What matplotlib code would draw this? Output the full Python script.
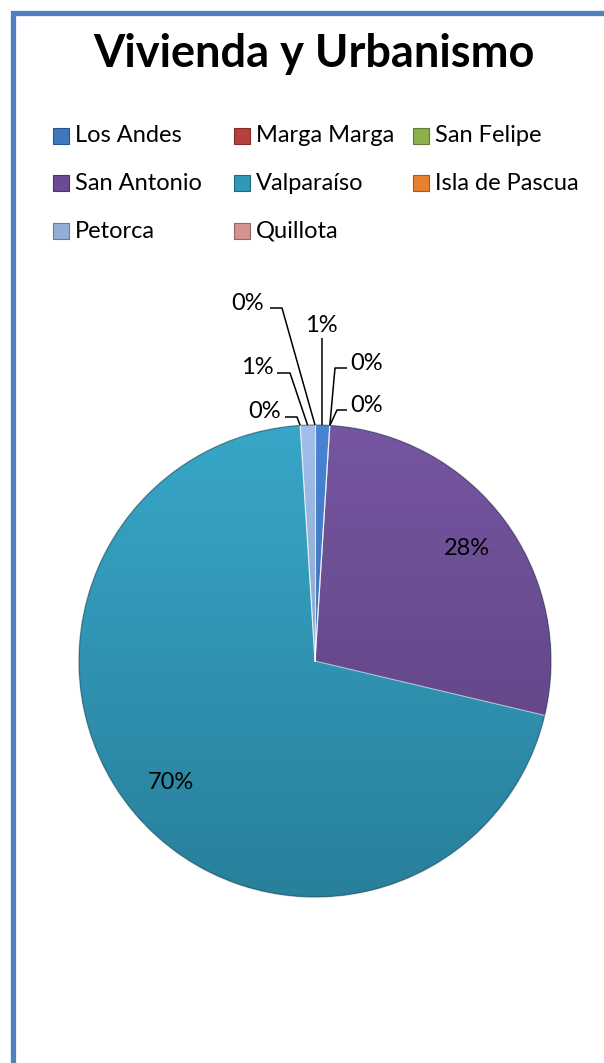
import numpy as np
import matplotlib
matplotlib.use("Agg")
import matplotlib.pyplot as plt
from matplotlib.patches import Rectangle
from matplotlib.colors import LinearSegmentedColormap, to_rgb

# ---- data ----
categories = ["Los Andes", "Marga Marga", "San Felipe", "San Antonio",
              "Valparaíso", "Isla de Pascua", "Petorca", "Quillota"]
values = [1.0, 0.0, 0.0, 27.7, 70.3, 0.0, 1.0, 0.0]
colors = ["#3F78C2", "#B8403C", "#8DB04A", "#6A4C93",
          "#3098B8", "#E8812E", "#93AFD8", "#D49390"]
title = "Vivienda y Urbanismo"

W, H = 604, 1063
fig = plt.figure(figsize=(W / 100, H / 100), dpi=100)
ax = fig.add_axes([0, 0, 1, 1])

FONT = ["Lato", "DejaVu Sans"]

cx, cy_img, R = 315, 661, 236
cy = H - cy_img

wedges, _ = ax.pie(values, colors=colors, startangle=90, counterclock=False,
                   center=(cx, cy), radius=R,
                   wedgeprops=dict(linewidth=0, edgecolor="none"))

# vertical gradient shading on each wedge (lighter at top)
grad = np.linspace(0.0, 1.0, 256).reshape(-1, 1)
for w, c in zip(wedges, colors):
    base = np.array(to_rgb(c))
    top = np.clip(base * 1.06 + 0.02, 0, 1)
    bot = base * 0.84
    cmap = LinearSegmentedColormap.from_list("g", [bot, top])
    im = ax.imshow(grad, extent=(cx - R, cx + R, cy - R, cy + R),
                   cmap=cmap, aspect="auto", origin="lower", zorder=2)
    im.set_clip_path(w)

# rim outline
circ = plt.Circle((cx, cy), R, fill=False, edgecolor="#1f3a48", linewidth=1.0,
                  alpha=0.45, zorder=3)
ax.add_patch(circ)

# slice boundaries (light bevel lines)
total = sum(values)
cum = np.cumsum([0] + values)
for f in cum[:-1]:
    ang = np.deg2rad(90 - 360 * f / total)
    ax.plot([cx, cx + R * np.cos(ang)], [cy, cy + R * np.sin(ang)],
            color="white", lw=0.8, alpha=0.55, zorder=3)

# ---- labels ----
pct = [round(100 * v / total) for v in values]
mid_frac = [(cum[i] + cum[i + 1]) / 2 / total for i in range(len(values))]

# label positions (image pixel coords) and leader elbow points for small slices
label_pos = {0: (321, 326), 1: (367, 363), 2: (367, 405),
             5: (265, 412), 6: (257, 367), 7: (248, 304)}
elbow = {1: [(347, 368), (335, 368)], 2: [(347, 410), (337, 410)],
         5: [(285, 417), (297, 417)], 6: [(277, 373), (290, 373)],
         7: [(270, 308), (282, 308)]}
fs = 17
for i, v in enumerate(values):
    ang = np.deg2rad(90 - 360 * mid_frac[i])
    txt = f"{pct[i]}%"
    if i in (3, 4):
        r = 0.8 * R
        ax.text(cx + r * np.cos(ang), cy + r * np.sin(ang), txt, ha="center",
                va="center", fontsize=fs, family=FONT, zorder=5)
        continue
    lx, ly = label_pos[i]
    ax.text(lx, H - ly, txt, ha="center", va="center", fontsize=fs,
            family=FONT, zorder=5)
    rim = (cx + R * np.cos(ang), cy + R * np.sin(ang))
    if i == 0:
        pts = [(rim[0], H - 338), rim]
    else:
        pts = [(x, H - y) for x, y in elbow[i]] + [rim]
    xs, ys = zip(*pts)
    ax.plot(xs, ys, color="black", lw=1.1, zorder=4, solid_capstyle="butt")

# ---- title ----
ax.text(314, H - 54, title, ha="center", va="center", fontsize=32.5,
        fontweight="bold", family=FONT, zorder=5)

# ---- legend ----
col_x = [53, 234, 413]
row_y = [136, 183, 231]
for i, (name, c) in enumerate(zip(categories, colors)):
    r_, c_ = divmod(i, 3)
    x0, y0 = col_x[c_], row_y[r_]
    ax.add_patch(Rectangle((x0, H - y0 - 8), 16, 16, facecolor=c,
                           edgecolor=np.array(to_rgb(c)) * 0.7, lw=0.8, zorder=5))
    ax.text(x0 + 22, H - y0, name, ha="left", va="center", fontsize=fs,
            family=FONT, zorder=5)

# ---- frame ----
ax.add_patch(Rectangle((12.5, -50), W + 100, H - 12.5 + 50, fill=False,
                       edgecolor="#4F81BD", lw=3.8, zorder=6))

ax.set_xlim(0, W)
ax.set_ylim(0, H)
ax.set_aspect("auto")
ax.axis("off")
fig.savefig("out.png", dpi=100, facecolor="white")
